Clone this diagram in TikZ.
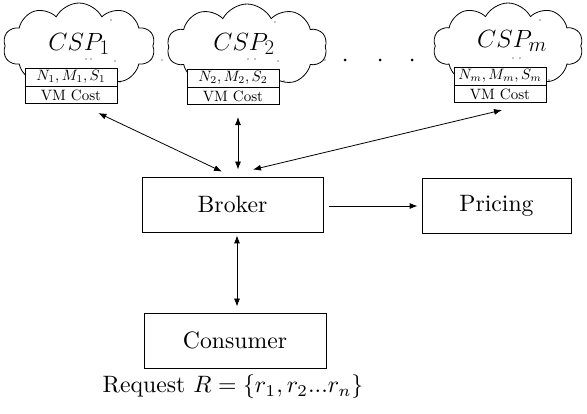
\documentclass[tikz,border=0pt]{standalone}
\usetikzlibrary{shapes.symbols,arrows.meta,calc}
\begin{document}
\begin{tikzpicture}[x=1pt,y=-1pt,
  boxnode/.style={draw,line width=0.8pt,minimum width=#1,minimum height=55pt,inner sep=0pt},
  bigtext/.style={font=\normalsize,scale=2.37},
  cloudnode/.style={draw,cloud,cloud puffs=10,cloud puff arc=125,line width=0.8pt,inner sep=0pt,minimum width=#1,minimum height=86pt},
  cloudtext/.style={font=\fontsize{28}{33}\selectfont},
  rowtop/.style={draw,fill=white,line width=0.7pt,minimum width=92pt,minimum height=18pt,inner sep=0pt},
  rowbot/.style={draw,fill=white,line width=0.7pt,minimum width=92pt,minimum height=17pt,inner sep=0pt},
  rowtext/.style={font=\normalsize,scale=1.5},
  arr/.style={line width=0.8pt,-{Latex[length=8pt,width=6pt]}},
  biarr/.style={line width=0.8pt,{Latex[length=8pt,width=6pt]}-{Latex[length=8pt,width=6pt]}},
  stray/.style={fill=black,inner sep=0pt,minimum size=1.2pt,circle},
  bigdot/.style={fill=black,inner sep=0pt,minimum size=3pt,circle}]
\useasboundingbox (0,0) rectangle (587,414);

% clouds
\node[cloudnode=152pt] (c1) at (79,46) {};
\node[cloudnode=160pt] (c2) at (247,47) {};
\node[cloudnode=150pt] (cm) at (508,46) {};
\node[cloudtext] (t1) at (79,44) {$CSP_1$};
\node[cloudtext] (t2) at (244,44) {$CSP_2$};
\node[cloudtext] (tm) at (512,41) {$CSP_m$};

% boxes
\node[rowtop] (n1) at (71,77) {};
\node[rowbot,anchor=north] (v1) at (n1.south) {};
\node[rowtop] (n2) at (233,78) {};
\node[rowbot,anchor=north] (v2) at (n2.south) {};
\node[rowtop] (nm) at (500,76) {};
\node[rowbot,anchor=north] (vm) at (nm.south) {};
\node[rowtext] (n1t) at (n1) {$N_1,M_1,S_1$};
\node[rowtext] (v1t) at (v1) {VM Cost};
\node[rowtext] (n2t) at (n2) {$N_2,M_2,S_2$};
\node[rowtext] (v2t) at (v2) {VM Cost};
\node[rowtext] (nmt) at (nm) {$N_m,M_m,S_m$};
\node[rowtext] (vmt) at (vm) {VM Cost};

% stray dots
\foreach \p in {(111,20),(86,59),(91,59),(115,61),(120,82),(162,60),
                (275,22),(248,59),(255,59),(278,61),(284,81),(325,60),
                (540,20),(513,58),(520,58),(549,80)}
  \node[stray] at \p {};
\node[bigdot] (d1) at (345,60) {};
\node[bigdot] (d2) at (380,60) {};
\node[bigdot] (d3) at (412,60) {};

% main boxes
\node[boxnode=181pt] (broker) at (232.5,204.5) {};
\node[boxnode=149pt] (pricing) at (496.5,205.5) {};
\node[boxnode=182pt] (consumer) at (235,340.5) {};
\node[bigtext] (brokert) at (broker) {Broker};
\node[bigtext] (pricingt) at (pricing) {Pricing};
\node[bigtext] (consumert) at (consumer) {Consumer};
\node[bigtext] (req) at (233,387) {Request $R=\{r_1,r_2...r_n\}$};

% connectors
\draw[biarr] ($(broker.north)+(-10.5,-5)$) -- ($(v1.south east)+(-19,9)$);
\draw[biarr] ($(broker.north)+(5.5,-7)$) -- ($(v2.south)+(5,12)$);
\draw[biarr] ($(broker.north)+(20.5,-7)$) -- ($(vm.south)+(2,7)$);
\draw[biarr] ($(broker.south)+(4.5,3)$) -- ($(consumer.north)+(2,-6)$);
\draw[arr] ($(broker.east)+(6,1.5)$) -- ($(pricing.west)+(-4,0.5)$);
\end{tikzpicture}
\end{document}
